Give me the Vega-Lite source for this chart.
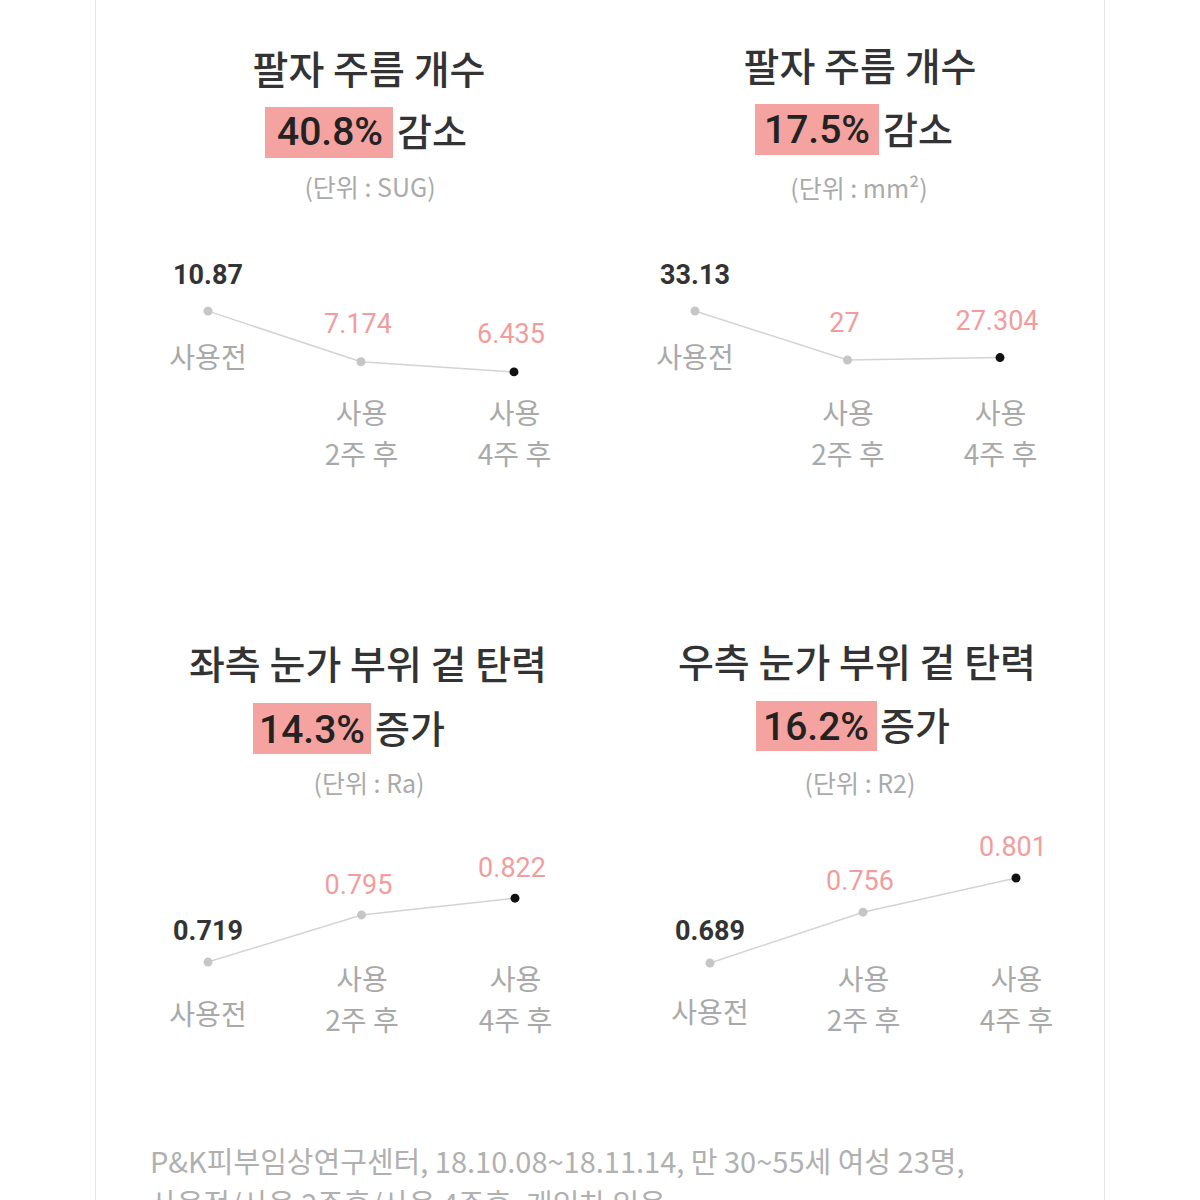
{
  "$schema": "https://vega.github.io/schema/vega-lite/v6.json",
  "background": "white",
  "padding": {"left": 95, "top": 0, "right": 0, "bottom": 0},
  "spacing": 20,
  "hconcat": [
    {"width": 1, "height": 1200, "view": {"fill": "#e6e6e6", "stroke": null}, "data": {"values": []}, "mark": {"type": "point", "opacity": 0}},
    {
      "vconcat": [
        {
          "hconcat": [
            {
              "width": 484, "height": 595,
              "data": {"values": [{"stage": "사용전", "value": 10.87}, {"stage": "사용 2주 후", "value": 7.174}, {"stage": "사용 4주 후", "value": 6.435}]},
              "layer": [
                {"data": {"values": [{}]}, "mark": {"type": "rect", "fill": "#f4a3a0"}, "encoding": {"x": {"value": 149}, "x2": {"value": 277}, "y": {"value": 107}, "y2": {"value": 158}}},
                {"data": {"values": [{"t": "팔자 주름 개수"}]}, "mark": {"type": "text", "font": "Noto Sans CJK KR", "fontSize": 39, "fontWeight": 500, "color": "#333333", "align": "center", "baseline": "middle", "x": 253, "y": 72}, "encoding": {"text": {"field": "t"}}},
                {"data": {"values": [{"t": "40.8%"}]}, "mark": {"type": "text", "font": "Roboto", "fontSize": 39, "fontWeight": 500, "color": "#222222", "align": "center", "baseline": "middle", "x": 214, "y": 133}, "encoding": {"text": {"field": "t"}}},
                {"data": {"values": [{"t": "감소"}]}, "mark": {"type": "text", "font": "Noto Sans CJK KR", "fontSize": 38, "fontWeight": 500, "color": "#333333", "align": "left", "baseline": "middle", "x": 281, "y": 135}, "encoding": {"text": {"field": "t"}}},
                {"data": {"values": [{"t": "(단위 : SUG)"}]}, "mark": {"type": "text", "font": "Noto Sans CJK KR", "fontSize": 25, "color": "#aaaaaa", "align": "center", "baseline": "middle", "x": 254, "y": 189}, "encoding": {"text": {"field": "t"}}},
                {"mark": {"type": "line", "stroke": "#d3d3d3", "strokeWidth": 1.5},
                 "encoding": {"x": {"field": "stage", "type": "ordinal", "title": null, "scale": {"type": "point", "domain": ["사용전", "사용 2주 후", "사용 4주 후"], "range": [92, 398], "padding": 0}, "axis": {"offset": -180}},
                              "y": {"field": "value", "type": "quantitative", "axis": null, "scale": {"domain": [-9.85, 33.58], "zero": false, "nice": false}}}},
                {"mark": {"type": "circle", "opacity": 1},
                 "encoding": {"x": {"field": "stage", "type": "ordinal", "title": null}, "y": {"field": "value", "type": "quantitative", "axis": null},
                              "color": {"field": "stage", "type": "ordinal", "scale": {"domain": ["사용전", "사용 2주 후", "사용 4주 후"], "range": ["#c6c6c6", "#c6c6c6", "#111111"]}, "legend": null},
                              "size": {"field": "stage", "type": "ordinal", "scale": {"domain": ["사용전", "사용 2주 후", "사용 4주 후"], "range": [80, 80, 120]}, "legend": null}}},
                {"transform": [{"filter": "datum.stage == '사용전'"}], "mark": {"type": "text", "font": "Roboto", "fontSize": 27, "fontWeight": "bold", "color": "#333333", "baseline": "middle", "dy": -35},
                 "encoding": {"x": {"field": "stage", "type": "ordinal", "title": null}, "y": {"field": "value", "type": "quantitative", "axis": null}, "text": {"field": "value", "type": "nominal"}}},
                {"transform": [{"filter": "datum.stage != '사용전'"}], "mark": {"type": "text", "font": "Roboto", "fontSize": 27, "color": "#f29d9d", "baseline": "middle", "dx": -3, "dy": -37},
                 "encoding": {"x": {"field": "stage", "type": "ordinal", "title": null}, "y": {"field": "value", "type": "quantitative", "axis": null}, "text": {"field": "value", "type": "nominal"}}},
                {"transform": [{"filter": "datum.stage == '사용전'"}], "mark": {"type": "text", "font": "Noto Sans CJK KR", "fontSize": 28, "color": "#a9a9a9", "baseline": "middle", "dy": 49},
                 "encoding": {"x": {"field": "stage", "type": "ordinal", "title": null}, "y": {"field": "value", "type": "quantitative", "axis": null}, "text": {"field": "stage", "type": "nominal"}}}
              ]
            },
            {
              "width": 484, "height": 595,
              "data": {"values": [{"stage": "사용전", "value": 33.13}, {"stage": "사용 2주 후", "value": 27}, {"stage": "사용 4주 후", "value": 27.304}]},
              "layer": [
                {"data": {"values": [{}]}, "mark": {"type": "rect", "fill": "#f4a3a0"}, "encoding": {"x": {"value": 155}, "x2": {"value": 279}, "y": {"value": 104}, "y2": {"value": 155}}},
                {"data": {"values": [{"t": "팔자 주름 개수"}]}, "mark": {"type": "text", "font": "Noto Sans CJK KR", "fontSize": 39, "fontWeight": 500, "color": "#333333", "align": "center", "baseline": "middle", "x": 260, "y": 69}, "encoding": {"text": {"field": "t"}}},
                {"data": {"values": [{"t": "17.5%"}]}, "mark": {"type": "text", "font": "Roboto", "fontSize": 39, "fontWeight": 500, "color": "#222222", "align": "center", "baseline": "middle", "x": 217, "y": 131}, "encoding": {"text": {"field": "t"}}},
                {"data": {"values": [{"t": "감소"}]}, "mark": {"type": "text", "font": "Noto Sans CJK KR", "fontSize": 38, "fontWeight": 500, "color": "#333333", "align": "left", "baseline": "middle", "x": 283, "y": 133}, "encoding": {"text": {"field": "t"}}},
                {"data": {"values": [{"t": "(단위 : mm²)"}]}, "mark": {"type": "text", "font": "Noto Sans CJK KR", "fontSize": 25, "color": "#aaaaaa", "align": "center", "baseline": "middle", "x": 259, "y": 190}, "encoding": {"text": {"field": "t"}}},
                {"mark": {"type": "line", "stroke": "#d3d3d3", "strokeWidth": 1.5},
                 "encoding": {"x": {"field": "stage", "type": "ordinal", "title": null, "scale": {"type": "point", "domain": ["사용전", "사용 2주 후", "사용 4주 후"], "range": [95, 400], "padding": 0}, "axis": {"offset": -180}},
                              "y": {"field": "value", "type": "quantitative", "axis": null, "scale": {"domain": [-2.40, 72.04], "zero": false, "nice": false}}}},
                {"mark": {"type": "circle", "opacity": 1},
                 "encoding": {"x": {"field": "stage", "type": "ordinal", "title": null}, "y": {"field": "value", "type": "quantitative", "axis": null},
                              "color": {"field": "stage", "type": "ordinal", "scale": {"domain": ["사용전", "사용 2주 후", "사용 4주 후"], "range": ["#c6c6c6", "#c6c6c6", "#111111"]}, "legend": null},
                              "size": {"field": "stage", "type": "ordinal", "scale": {"domain": ["사용전", "사용 2주 후", "사용 4주 후"], "range": [80, 80, 120]}, "legend": null}}},
                {"transform": [{"filter": "datum.stage == '사용전'"}], "mark": {"type": "text", "font": "Roboto", "fontSize": 27, "fontWeight": "bold", "color": "#333333", "baseline": "middle", "dy": -35},
                 "encoding": {"x": {"field": "stage", "type": "ordinal", "title": null}, "y": {"field": "value", "type": "quantitative", "axis": null}, "text": {"field": "value", "type": "nominal"}}},
                {"transform": [{"filter": "datum.stage != '사용전'"}], "mark": {"type": "text", "font": "Roboto", "fontSize": 27, "color": "#f29d9d", "baseline": "middle", "dx": -3, "dy": -36},
                 "encoding": {"x": {"field": "stage", "type": "ordinal", "title": null}, "y": {"field": "value", "type": "quantitative", "axis": null}, "text": {"field": "value", "type": "nominal"}}},
                {"transform": [{"filter": "datum.stage == '사용전'"}], "mark": {"type": "text", "font": "Noto Sans CJK KR", "fontSize": 28, "color": "#a9a9a9", "baseline": "middle", "dy": 49},
                 "encoding": {"x": {"field": "stage", "type": "ordinal", "title": null}, "y": {"field": "value", "type": "quantitative", "axis": null}, "text": {"field": "stage", "type": "nominal"}}}
              ]
            }
          ],
          "spacing": 0
        },
        {
          "hconcat": [
            {
              "width": 484, "height": 535,
              "data": {"values": [{"stage": "사용전", "value": 0.719}, {"stage": "사용 2주 후", "value": 0.795}, {"stage": "사용 4주 후", "value": 0.822}]},
              "layer": [
                {"data": {"values": [{}]}, "mark": {"type": "rect", "fill": "#f4a3a0"}, "encoding": {"x": {"value": 137}, "x2": {"value": 255}, "y": {"value": 108}, "y2": {"value": 159}}},
                {"data": {"values": [{"t": "좌측 눈가 부위 겉 탄력"}]}, "mark": {"type": "text", "font": "Noto Sans CJK KR", "fontSize": 39, "fontWeight": 500, "color": "#333333", "align": "center", "baseline": "middle", "x": 252, "y": 72}, "encoding": {"text": {"field": "t"}}},
                {"data": {"values": [{"t": "14.3%"}]}, "mark": {"type": "text", "font": "Roboto", "fontSize": 39, "fontWeight": 500, "color": "#222222", "align": "center", "baseline": "middle", "x": 196, "y": 136}, "encoding": {"text": {"field": "t"}}},
                {"data": {"values": [{"t": "증가"}]}, "mark": {"type": "text", "font": "Noto Sans CJK KR", "fontSize": 38, "fontWeight": 500, "color": "#333333", "align": "left", "baseline": "middle", "x": 259, "y": 137}, "encoding": {"text": {"field": "t"}}},
                {"data": {"values": [{"t": "(단위 : Ra)"}]}, "mark": {"type": "text", "font": "Noto Sans CJK KR", "fontSize": 25, "color": "#aaaaaa", "align": "center", "baseline": "middle", "x": 253, "y": 190}, "encoding": {"text": {"field": "t"}}},
                {"mark": {"type": "line", "stroke": "#d3d3d3", "strokeWidth": 1.5},
                 "encoding": {"x": {"field": "stage", "type": "ordinal", "title": null, "scale": {"type": "point", "domain": ["사용전", "사용 2주 후", "사용 4주 후"], "range": [92, 399], "padding": 0}, "axis": {"offset": -149}},
                              "y": {"field": "value", "type": "quantitative", "axis": null, "scale": {"domain": [0.4481, 1.3110], "zero": false, "nice": false}}}},
                {"mark": {"type": "circle", "opacity": 1},
                 "encoding": {"x": {"field": "stage", "type": "ordinal", "title": null}, "y": {"field": "value", "type": "quantitative", "axis": null},
                              "color": {"field": "stage", "type": "ordinal", "scale": {"domain": ["사용전", "사용 2주 후", "사용 4주 후"], "range": ["#c6c6c6", "#c6c6c6", "#111111"]}, "legend": null},
                              "size": {"field": "stage", "type": "ordinal", "scale": {"domain": ["사용전", "사용 2주 후", "사용 4주 후"], "range": [80, 80, 120]}, "legend": null}}},
                {"transform": [{"filter": "datum.stage == '사용전'"}], "mark": {"type": "text", "font": "Roboto", "fontSize": 27, "fontWeight": "bold", "color": "#333333", "baseline": "middle", "dy": -30},
                 "encoding": {"x": {"field": "stage", "type": "ordinal", "title": null}, "y": {"field": "value", "type": "quantitative", "axis": null}, "text": {"field": "value", "type": "nominal"}}},
                {"transform": [{"filter": "datum.stage != '사용전'"}], "mark": {"type": "text", "font": "Roboto", "fontSize": 27, "color": "#f29d9d", "baseline": "middle", "dx": -3, "dy": -29},
                 "encoding": {"x": {"field": "stage", "type": "ordinal", "title": null}, "y": {"field": "value", "type": "quantitative", "axis": null}, "text": {"field": "value", "type": "nominal"}}},
                {"transform": [{"filter": "datum.stage == '사용전'"}], "mark": {"type": "text", "font": "Noto Sans CJK KR", "fontSize": 28, "color": "#a9a9a9", "baseline": "middle", "dy": 55},
                 "encoding": {"x": {"field": "stage", "type": "ordinal", "title": null}, "y": {"field": "value", "type": "quantitative", "axis": null}, "text": {"field": "stage", "type": "nominal"}}}
              ]
            },
            {
              "width": 484, "height": 535,
              "data": {"values": [{"stage": "사용전", "value": 0.689}, {"stage": "사용 2주 후", "value": 0.756}, {"stage": "사용 4주 후", "value": 0.801}]},
              "layer": [
                {"data": {"values": [{}]}, "mark": {"type": "rect", "fill": "#f4a3a0"}, "encoding": {"x": {"value": 156}, "x2": {"value": 277}, "y": {"value": 106}, "y2": {"value": 156}}},
                {"data": {"values": [{"t": "우측 눈가 부위 겉 탄력"}]}, "mark": {"type": "text", "font": "Noto Sans CJK KR", "fontSize": 39, "fontWeight": 500, "color": "#333333", "align": "center", "baseline": "middle", "x": 257, "y": 70}, "encoding": {"text": {"field": "t"}}},
                {"data": {"values": [{"t": "16.2%"}]}, "mark": {"type": "text", "font": "Roboto", "fontSize": 39, "fontWeight": 500, "color": "#222222", "align": "center", "baseline": "middle", "x": 216, "y": 133}, "encoding": {"text": {"field": "t"}}},
                {"data": {"values": [{"t": "증가"}]}, "mark": {"type": "text", "font": "Noto Sans CJK KR", "fontSize": 38, "fontWeight": 500, "color": "#333333", "align": "left", "baseline": "middle", "x": 280, "y": 134}, "encoding": {"text": {"field": "t"}}},
                {"data": {"values": [{"t": "(단위 : R2)"}]}, "mark": {"type": "text", "font": "Noto Sans CJK KR", "fontSize": 25, "color": "#aaaaaa", "align": "center", "baseline": "middle", "x": 260, "y": 190}, "encoding": {"text": {"field": "t"}}},
                {"mark": {"type": "line", "stroke": "#d3d3d3", "strokeWidth": 1.5},
                 "encoding": {"x": {"field": "stage", "type": "ordinal", "title": null, "scale": {"type": "point", "domain": ["사용전", "사용 2주 후", "사용 4주 후"], "range": [110, 416], "padding": 0}, "axis": {"offset": -149}},
                              "y": {"field": "value", "type": "quantitative", "axis": null, "scale": {"domain": [0.4690, 1.1739], "zero": false, "nice": false}}}},
                {"mark": {"type": "circle", "opacity": 1},
                 "encoding": {"x": {"field": "stage", "type": "ordinal", "title": null}, "y": {"field": "value", "type": "quantitative", "axis": null},
                              "color": {"field": "stage", "type": "ordinal", "scale": {"domain": ["사용전", "사용 2주 후", "사용 4주 후"], "range": ["#c6c6c6", "#c6c6c6", "#111111"]}, "legend": null},
                              "size": {"field": "stage", "type": "ordinal", "scale": {"domain": ["사용전", "사용 2주 후", "사용 4주 후"], "range": [80, 80, 120]}, "legend": null}}},
                {"transform": [{"filter": "datum.stage == '사용전'"}], "mark": {"type": "text", "font": "Roboto", "fontSize": 27, "fontWeight": "bold", "color": "#333333", "baseline": "middle", "dy": -31},
                 "encoding": {"x": {"field": "stage", "type": "ordinal", "title": null}, "y": {"field": "value", "type": "quantitative", "axis": null}, "text": {"field": "value", "type": "nominal"}}},
                {"transform": [{"filter": "datum.stage != '사용전'"}], "mark": {"type": "text", "font": "Roboto", "fontSize": 27, "color": "#f29d9d", "baseline": "middle", "dx": -3, "dy": -30},
                 "encoding": {"x": {"field": "stage", "type": "ordinal", "title": null}, "y": {"field": "value", "type": "quantitative", "axis": null}, "text": {"field": "value", "type": "nominal"}}},
                {"transform": [{"filter": "datum.stage == '사용전'"}], "mark": {"type": "text", "font": "Noto Sans CJK KR", "fontSize": 28, "color": "#a9a9a9", "baseline": "middle", "dy": 52},
                 "encoding": {"x": {"field": "stage", "type": "ordinal", "title": null}, "y": {"field": "value", "type": "quantitative", "axis": null}, "text": {"field": "stage", "type": "nominal"}}}
              ]
            }
          ],
          "spacing": 0
        },
        {
          "width": 968, "height": 70,
          "data": {"values": [{"t": "P&K피부임상연구센터, 18.10.08~18.11.14, 만 30~55세 여성 23명,\n사용전/사용 2주후/사용 4주후, 개인차 있음"}]},
          "mark": {"type": "text", "font": "Noto Sans CJK KR", "fontSize": 29, "color": "#b0b0b0", "align": "left", "baseline": "middle", "lineBreak": "\n", "lineHeight": 42, "x": 34, "y": 34},
          "encoding": {"text": {"field": "t"}}
        }
      ],
      "spacing": 0
    },
    {"width": 1, "height": 1200, "view": {"fill": "#e6e6e6", "stroke": null}, "data": {"values": []}, "mark": {"type": "point", "opacity": 0}}
  ],
  "config": {
    "view": {"stroke": null},
    "axisX": {
      "domain": false, "ticks": false, "tickSize": 0, "grid": false,
      "labelFont": "Noto Sans CJK KR", "labelFontSize": 28, "labelColor": "#a9a9a9",
      "labelPadding": 0, "labelLineHeight": 41, "labelBaseline": "middle", "labelAngle": 0,
      "labelFlush": false, "labelOverlap": false,
      "labelExpr": "datum.value == '사용전' ? '' : ['사용', substring(datum.value, 3)]"
    }
  }
}
